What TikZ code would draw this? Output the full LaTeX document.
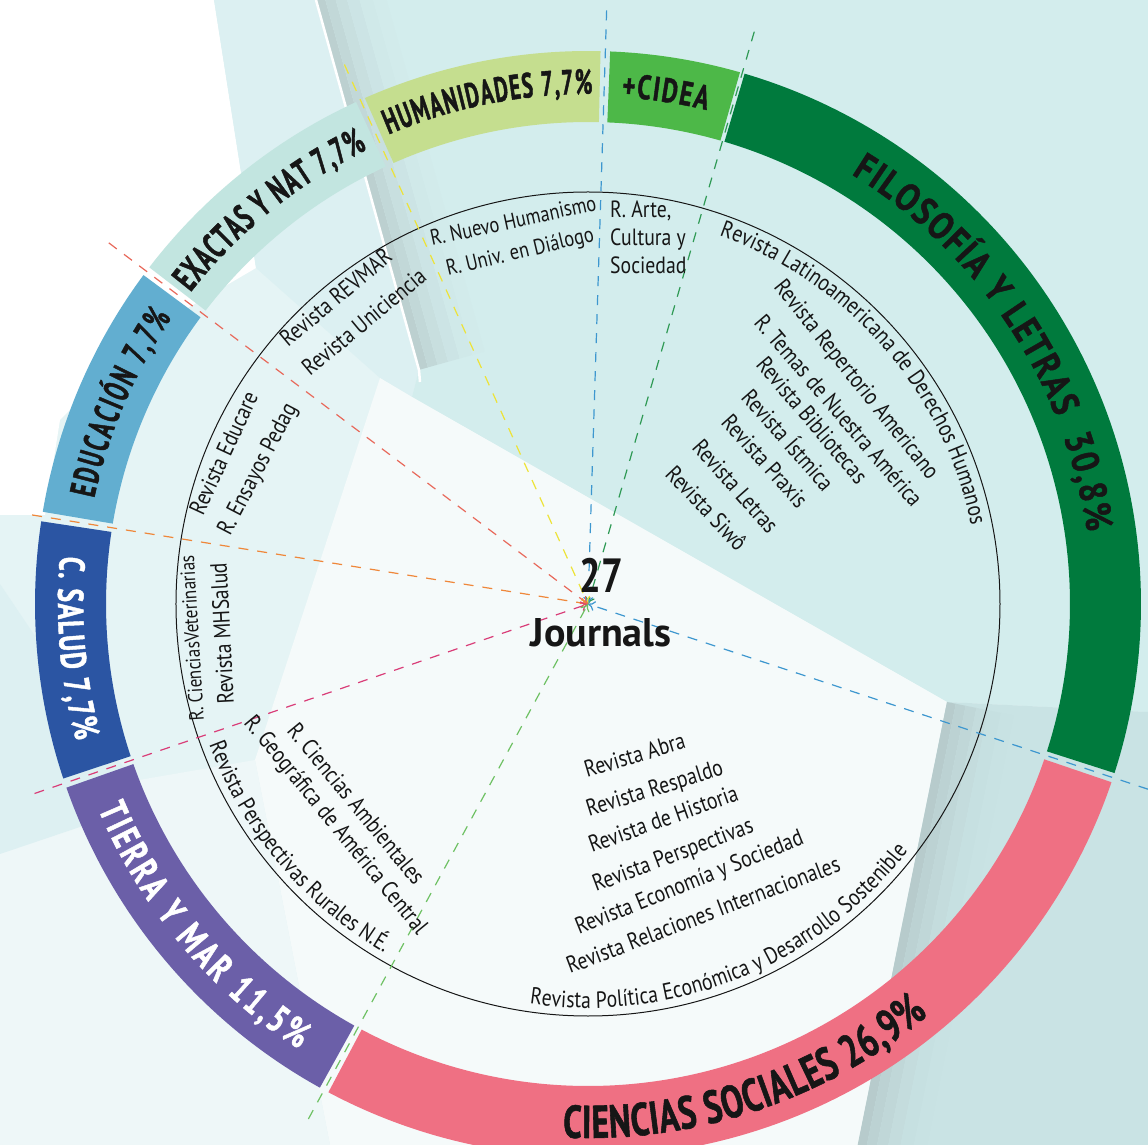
\documentclass[tikz,border=0pt]{standalone}
\usepackage{fontspec}
\setmainfont{PT Sans}
\newfontfamily\ringwide{PT Sans}[FakeStretch=0.85, FakeBold=1.2]
\newfontfamily\ringfont{PT Sans}[FakeStretch=0.72, FakeBold=1.2]
\newfontfamily\ringnarrow{PT Sans}[FakeStretch=0.6, FakeBold=1.2]
\newfontfamily\jfont{PT Sans}[FakeStretch=0.84]
\newfontfamily\hubfont{PT Sans}[FakeStretch=0.8]
\usetikzlibrary{decorations.text, arrows.meta}

\definecolor{ink}{HTML}{161616}
\definecolor{filo}{HTML}{007A3D}
\definecolor{cidea}{HTML}{4DB848}
\definecolor{huma}{HTML}{C5DE8F}
\definecolor{exac}{HTML}{C2E5E0}
\definecolor{educ}{HTML}{62AED0}
\definecolor{salu}{HTML}{2B55A3}
\definecolor{tier}{HTML}{6B5FA8}
\definecolor{csoc}{HTML}{EF7083}
\definecolor{bgbase}{HTML}{E5F4F5}
\definecolor{bgstrip}{HTML}{DCF0F2}
\definecolor{bgteal}{HTML}{D3EDED}
\definecolor{bgpanel}{HTML}{F5FAFA}
\definecolor{bgdeep}{HTML}{C9E3E4}
\definecolor{bglite}{HTML}{EEF7F8}
\definecolor{bgfold}{HTML}{DDF0F2}
\definecolor{fold}{HTML}{A9B8B9}
\definecolor{dyel}{HTML}{EDE338}
\definecolor{dblu}{HTML}{3D97CF}
\definecolor{dgrn}{HTML}{2F9A55}
\definecolor{dlgr}{HTML}{6EC163}
\definecolor{dmag}{HTML}{D93D78}
\definecolor{dora}{HTML}{EF873A}
\definecolor{dsal}{HTML}{E8695B}

\newcommand{\jsize}{\jfont\fontsize{23.5}{28}\selectfont}
\newcommand{\rsize}[2]{#1\bfseries\fontsize{#2}{#2}\selectfont}

\begin{document}
\begin{tikzpicture}[x=1pt, y=1pt,
    guide/.style={line width=1.2pt, dash pattern=on 10pt off 9pt, -{To[length=7pt, width=10pt]}},
    jname/.style={font=\jsize, text=ink, anchor=base west, inner sep=0pt},
    hubtext/.style={text=ink, anchor=base, inner sep=0pt}
]

    \useasboundingbox (-588,-541) rectangle (560,604);

    % background
    \fill[bgbase] (-588,-541) rectangle (560,604);
    \fill[white] (-588,604) -- (-374,604) -- (-332,336) -- (-438,274) -- (-528,184) -- (-543,89) -- (-588,89) -- cycle;
    \fill[bgstrip] (-374,604) -- (-272,604) -- (-169,234) -- (-176,207) -- (-208,226) -- (-332,336) -- cycle;
    \fill[bgteal] (-272,604) -- (560,604) -- (560,-108) -- (359,-98) -- (-176,207) -- (-169,234) -- cycle;
    \fill[bgpanel] (-176,207) -- (359,-98) -- (270,-541) -- (-258,-541) -- (-333,-156) -- (-208,226) -- cycle;
    \fill[bgdeep] (359,-98) -- (560,-108) -- (560,-541) -- (270,-541) -- cycle;
    \fill[bglite] (-588,-200) -- (-333,-156) -- (-258,-541) -- (-588,-541) -- cycle;
    \fill[bgfold] (-588,20) -- (-440,-200) -- (-588,-250) -- cycle;

    % fold shadows
    \begin{scope}[shift={(-272,604)}, rotate=-74.4]
        \fill[fold!55!bgteal] (0,0) rectangle (384,9);
        \fill[fold!40!bgteal] (0,9) rectangle (384,19);
        \fill[fold!27!bgteal] (0,19) rectangle (384,30);
        \fill[fold!16!bgteal] (0,30) rectangle (384,42);
        \fill[fold!8!bgteal] (0,42) rectangle (384,55);
        \fill[fold!3!bgteal] (0,55) rectangle (384,68);
    \end{scope}
    \begin{scope}[shift={(359,-98)}, rotate=-101.4]
        \fill[fold!55!bgdeep] (0,0) rectangle (452,9);
        \fill[fold!40!bgdeep] (0,9) rectangle (452,19);
        \fill[fold!27!bgdeep] (0,19) rectangle (452,30);
        \fill[fold!16!bgdeep] (0,30) rectangle (452,42);
        \fill[fold!8!bgdeep] (0,42) rectangle (452,55);
        \fill[fold!3!bgdeep] (0,55) rectangle (452,68);
    \end{scope}
    \draw[white, line width=2.5pt] (-272,604) -- (-169,234) -- (-168,222);

    % ring of areas
    \fill[filo]  (-17.8:482) arc (-17.8:73.55:482) -- (73.55:553) arc (73.55:-17.8:553) -- cycle;
    \fill[cidea] (74.05:482) arc (74.05:87.7:482) -- (87.7:553) arc (87.7:74.05:553) -- cycle;
    \fill[huma]  (88.7:482) arc (88.7:113.8:482) -- (113.8:553) arc (113.8:88.7:553) -- cycle;
    \fill[exac]  (114.8:482) arc (114.8:142.5:482) -- (142.5:553) arc (142.5:114.8:553) -- cycle;
    \fill[educ]  (143.5:482) arc (143.5:170.4:482) -- (170.4:553) arc (170.4:143.5:553) -- cycle;
    \fill[salu]  (171.4:482) arc (171.4:198.4:482) -- (198.4:553) arc (198.4:171.4:553) -- cycle;
    \fill[tier]  (199.4:482) arc (199.4:241.0:482) -- (241.0:553) arc (241.0:199.4:553) -- cycle;
    \fill[csoc]  (242.0:482) arc (242.0:341.2:482) -- (341.2:553) arc (341.2:242.0:553) -- cycle;

    % inner circle
    \coordinate (centre) at (0,0);
    \draw[ink, line width=1pt] (centre) circle (412);

    % guide lines to the centre
    \coordinate (gFil) at (-18.3:590);
    \coordinate (gCid) at (73.8:596);
    \coordinate (gHum) at (88.2:594);
    \coordinate (gExa) at (114.3:592);
    \coordinate (gEdu) at (143:600);
    \coordinate (gSal) at (170.9:563);
    \coordinate (gTie) at (198.9:585);
    \coordinate (gSoc) at (241.5:586);
    \draw[guide, dblu] (gFil) -- (centre);
    \draw[guide, dgrn] (gCid) -- (centre);
    \draw[guide, dblu] (gHum) -- (centre);
    \draw[guide, dyel] (gExa) -- (centre);
    \draw[guide, dsal] (gEdu) -- (centre);
    \draw[guide, dora] (gSal) -- (centre);
    \draw[guide, dmag] (gTie) -- (centre);
    \draw[guide, dlgr] (gSoc) -- (centre);

    % area labels
    \draw [decorate, decoration={text along path, text align=fit to path, text={|\rsize\ringwide{38.5}\color{ink}|FILOSOFÍA Y LETRAS{\hspace{8pt}} 30,8{\%}}}] (58.5:504) arc (58.5:8.2:504);
    \draw [decorate, decoration={text along path, text align=fit to path, text={|\rsize\ringfont{34}\color{ink}|+CIDEA}}] (86.2:508) arc (86.2:76.5:508);
    \draw [decorate, decoration={text along path, text align=fit to path, text={|\rsize\ringnarrow{35}\color{ink}|HUMANIDADES 7,7{\%}}}] (113.0:510) arc (113.0:89.5:510);
    \draw [decorate, decoration={text along path, text align=fit to path, text={|\rsize\ringnarrow{37}\color{ink}|EXACTAS Y NAT 7,7{\%}}}] (141.9:505) arc (141.9:115.9:505);
    \draw [decorate, decoration={text along path, text align=fit to path, text={|\rsize\ringnarrow{36}\color{ink}|EDUCACIÓN 7,7{\%}}}] (167.9:505) arc (167.9:145.5:505);
    \draw [decorate, decoration={text along path, text align=fit to path, text={|\rsize\ringfont{36}\color{white}|C. SALUD 7,7{\%}}}] (174.8:530) arc (174.8:195:530);
    \draw [decorate, decoration={text along path, text align=fit to path, text={|\rsize\ringfont{38.5}\color{white}|TIERRA Y MAR 11,5{\%}}}] (202.7:531) arc (202.7:237:531);
    \draw [decorate, decoration={text along path, text align=fit to path, text={|\rsize\ringfont{46}\color{ink}|CIENCIAS SOCIALES 26,9{\%}}}] (267.3:534) arc (267.3:309.6:534);

    % journals along the circle
    \draw [decorate, decoration={text along path, text align=center, text={|\jsize\color{ink}|Revista Latinoamericana de Derechos Humanos}}] (86:391) arc (86:-4:391);
    \draw [decorate, decoration={text along path, text align=center, text={|\jsize\color{ink}|Revista Perspectivas Rurales N.É.}}] (180:404) arc (180:260:404);
    \draw [decorate, decoration={text along path, text align=center, text={|\jsize\color{ink}|Revista Política Económica y Desarrollo Sostenible}}] (252:404) arc (252:332:404);

    % journals, straight lines
    \node[jname, rotate=12.3, font=\jfont\fontsize{22}{26}\selectfont] (nuevo) at (-156,358) {R. Nuevo Humanismo};
    \node[jname, rotate=13.5, font=\jfont\fontsize{22}{26}\selectfont] (univ) at (-140,328) {R. Univ. en Diálogo};
    \node[jname] (arte) at (22,386) {R. Arte,};
    \node[jname] (cultura) at (22,358) {Cultura y};
    \node[jname] (socied) at (22,330) {Sociedad};

    \node[jname, rotate=-51.3] (reper) at (185,317) {Revista Repertorio Americano};
    \node[jname, rotate=-49.4] (temas) at (165,281) {R. Temas de Nuestra América};
    \node[jname, rotate=-49.8] (biblio) at (167,239) {Revista Bibliotecas};
    \node[jname, rotate=-48.8] (istmica) at (152,206) {Revista Ístmica};
    \node[jname, rotate=-48.2] (praxis) at (132,181) {Revista Praxis};
    \node[jname, rotate=-48.5] (letras) at (103,156) {Revista Letras};
    \node[jname, rotate=-46.7] (siwo) at (76,129) {Revista Siwô};

    \node[jname, rotate=40] (revmar) at (-300,256) {Revista REVMAR};
    \node[jname, rotate=39.7] (unicien) at (-278,227) {Revista Uniciencia};
    \node[jname, rotate=65.2] (educare) at (-385,87) {Revista Educare};
    \node[jname, rotate=62.5] (ensayos) at (-358,67) {R. Ensayos Pedag};
    \node[jname, rotate=93.5, font=\jfont\fontsize{20.5}{24}\selectfont] (veter) at (-384,-117) {R. CienciasVeterinarias};
    \node[jname, rotate=93] (mhsalud) at (-354,-100) {Revista MHSalud};
    \node[jname, rotate=-50.5] (ambient) at (-302,-127) {R. Ciencias Ambientales};
    \node[jname, rotate=-50.7] (geograf) at (-345,-119) {R. Geográfica de América Central};

    \node[jname, rotate=16.7] (abra) at (-1,-174) {Revista Abra};
    \node[jname, rotate=17.5] (respaldo) at (1,-213) {Revista Respaldo};
    \node[jname, rotate=19.8] (historia) at (4,-249) {Revista de Historia};
    \node[jname, rotate=20.7] (perspec) at (8,-288) {Revista Perspectivas};
    \node[jname, rotate=22] (econ) at (-9,-331) {Revista Economía y Sociedad};
    \node[jname, rotate=20.8] (relac) at (-18,-370) {Revista Relaciones Internacionales};

    % centre
    \node[hubtext, font=\hubfont\bfseries\fontsize{48}{48}\selectfont] (count) at (13,11) {27};
    \node[hubtext, font=\bfseries\fontsize{40}{42}\selectfont] (journals) at (13,-43) {Journals};

\end{tikzpicture}
\end{document}
